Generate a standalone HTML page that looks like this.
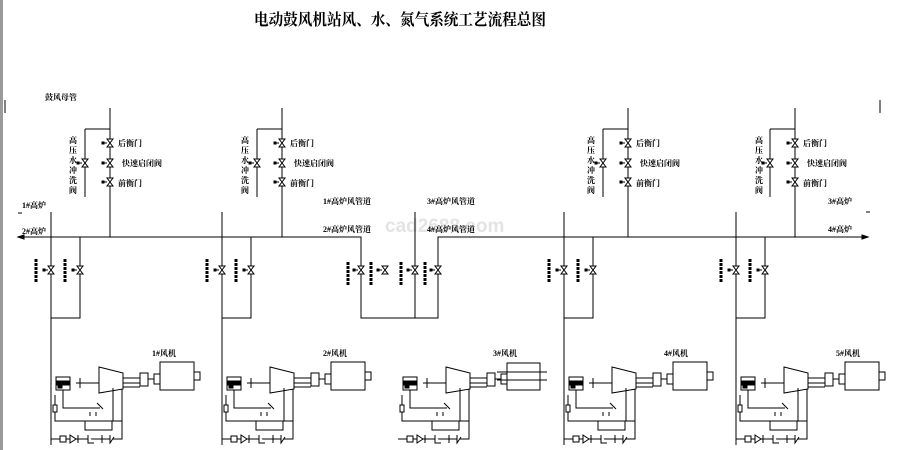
<!DOCTYPE html>
<html><head><meta charset="utf-8"><style>
html,body{margin:0;padding:0;background:#fff;width:900px;height:450px;overflow:hidden}
svg{display:block}
text{font-family:"Liberation Serif","Noto Serif CJK SC","Noto Sans CJK SC",serif;fill:#000}
.s{font-size:8px;font-weight:bold}
</style></head><body>
<svg width="900" height="450" viewBox="0 0 900 450" xmlns="http://www.w3.org/2000/svg">
<defs>
  <g id="v"><path d="M-3,-4 L3,-4 L-3,4 L3,4 Z" fill="#fff" stroke="#000" stroke-width="1"/><path d="M-3,0 h-4 M-8,-1 h2 v2 h-2z" stroke="#000" stroke-width="1" fill="#000"/></g>
  <g id="bar"><path d="M0,0 v24" stroke="#000" stroke-width="3" stroke-dasharray="3,1"/></g>
  <g id="top" stroke="#000" stroke-width="1" fill="none">
    <path d="M0,108 V237 M-25,129 H0 M-25,129 V197"/>
    <use href="#v" x="-25" y="163"/>
    <use href="#v" x="0" y="143"/>
    <use href="#v" x="0" y="163"/>
    <use href="#v" x="0" y="182"/>
  </g>
  <g id="down" stroke="#000" stroke-width="1" fill="none">
    <path d="M0,212 V445 M29,237 V318 H0"/>
    <use href="#v" x="0" y="270"/>
    <use href="#v" x="29" y="270"/>
    <use href="#bar" x="-15" y="259"/>
    <use href="#bar" x="14" y="259"/>
  </g>
  <g id="eq" stroke="#000" stroke-width="1" fill="none">
    <rect x="56" y="377" width="14" height="13"/>
    <rect x="57" y="381" width="13" height="4" fill="#000"/>
    <rect x="58" y="381" width="4" height="7" fill="#000"/>
    <path d="M76,383 H140 M80,378 V388"/>
    <path d="M99,367 L123,373 L123,389 L99,393 Z" fill="#fff"/>
    <path d="M123,378 H140 M123,387 H140"/>
    <rect x="140" y="373" width="8" height="13" fill="#fff"/>
    <path d="M148,379 H154"/>
    <rect x="154" y="374" width="6" height="10"/>
    <path d="M63,390 V408 H100 M55,395 V421 H122 M113,388 V421 M122,389 V439 H51 M85,421 V430 H112 V421"/>
    <rect x="53" y="405" width="4" height="7" fill="#fff"/>
    <path d="M97,403 l6,6 M90,416 v-4 M96,416 v-4" />
    <path d="M60,436 h6 v6 h-6z M70,435 l6,4 l-6,4z M78,435 v8 M88,435 v8 h6 M102,435 v8 M110,435 v8 l4,-6" fill="#fff"/>
  </g>
  <g id="motor" stroke="#000" stroke-width="1" fill="none">
    <rect x="160" y="362" width="34" height="28" fill="#fff"/>
    <rect x="194" y="372" width="6" height="8"/>
  </g>
</defs>

<rect x="0" y="0" width="3" height="450" fill="#9a9a9a"/>
<path d="M5,100 V113 M880,100 V113" stroke="#000" stroke-width="1"/>

<text x="254" y="25" font-size="16" font-weight="bold" textLength="292" lengthAdjust="spacingAndGlyphs">电动鼓风机站风、水、氮气系统工艺流程总图</text>
<text x="45" y="100" class="s" font-size="10">鼓风母管</text>
<text x="385" y="232" font-size="19" font-family="Liberation Sans,sans-serif" fill="#e2e2e2" style="fill:#e4e4e4;font-family:'Liberation Sans',sans-serif;font-weight:bold">cad2688.com</text>

<!-- main line -->
<g stroke="#000" stroke-width="1" fill="none">
  <path d="M18,237 H361 V318 H438 V237 H868 M415,212 V318"/>
  <path d="M18,237 l6,-2 v4z M868,237 l-6,-2 v4z" fill="#000"/>
  <path d="M18,213 h4 M866,212 h4"/>
</g>

<use href="#top" x="110"/>
<use href="#top" x="282"/>
<use href="#top" x="628"/>
<use href="#top" x="795"/>

<use href="#down" x="51"/>
<use href="#down" x="222"/>
<use href="#down" x="564"/>
<use href="#down" x="736"/>

<!-- middle valves -->
<g stroke="#000" fill="none">
  <use href="#v" x="361" y="270"/><use href="#v" x="385" y="270"/>
  <use href="#v" x="415" y="270"/><use href="#v" x="438" y="270"/>
  <use href="#bar" x="348" y="262"/><use href="#bar" x="371" y="262"/>
  <use href="#bar" x="401" y="262"/><use href="#bar" x="425" y="262"/>
</g>

<use href="#eq" x="0"/><use href="#motor" x="0"/>
<use href="#eq" x="171"/><use href="#motor" x="171"/>
<use href="#eq" x="347"/>
<use href="#eq" x="513"/><use href="#motor" x="513"/>
<use href="#eq" x="685"/><use href="#motor" x="685"/>
<g stroke="#000" fill="none">
  <rect x="507" y="363" width="33" height="27" fill="#fff"/>
  <path d="M497,372 H547 M497,380 H547"/>
</g>

<!-- top labels -->
<g class="s">
  <text x="118" y="146">后衡门</text><text x="122" y="166">快速启闭阀</text><text x="118" y="186">前衡门</text>
  <text x="290" y="146">后衡门</text><text x="294" y="166">快速启闭阀</text><text x="290" y="186">前衡门</text>
  <text x="636" y="146">后衡门</text><text x="640" y="166">快速启闭阀</text><text x="636" y="186">前衡门</text>
  <text x="803" y="146">后衡门</text><text x="807" y="166">快速启闭阀</text><text x="803" y="186">前衡门</text>
</g>
<g class="s" font-size="7">
  <text x="69" y="143">高</text><text x="69" y="153">压</text><text x="69" y="163">水</text><text x="69" y="173">冲</text><text x="69" y="183">洗</text><text x="69" y="193">阀</text>
  <text x="241" y="143">高</text><text x="241" y="153">压</text><text x="241" y="163">水</text><text x="241" y="173">冲</text><text x="241" y="183">洗</text><text x="241" y="193">阀</text>
  <text x="587" y="143">高</text><text x="587" y="153">压</text><text x="587" y="163">水</text><text x="587" y="173">冲</text><text x="587" y="183">洗</text><text x="587" y="193">阀</text>
  <text x="755" y="143">高</text><text x="755" y="153">压</text><text x="755" y="163">水</text><text x="755" y="173">冲</text><text x="755" y="183">洗</text><text x="755" y="193">阀</text>
</g>
<g class="s">
  <text x="22" y="208">1#高炉</text><text x="22" y="234">2#高炉</text>
  <text x="323" y="204">1#高炉风管道</text><text x="323" y="232">2#高炉风管道</text>
  <text x="427" y="204">3#高炉风管道</text><text x="427" y="232">4#高炉风管道</text>
  <text x="828" y="204">3#高炉</text><text x="828" y="232">4#高炉</text>
  <text x="152" y="356">1#风机</text><text x="323" y="356">2#风机</text>
  <text x="493" y="356">3#风机</text><text x="664" y="356">4#风机</text><text x="836" y="356">5#风机</text>
</g>
</svg>
</body></html>
